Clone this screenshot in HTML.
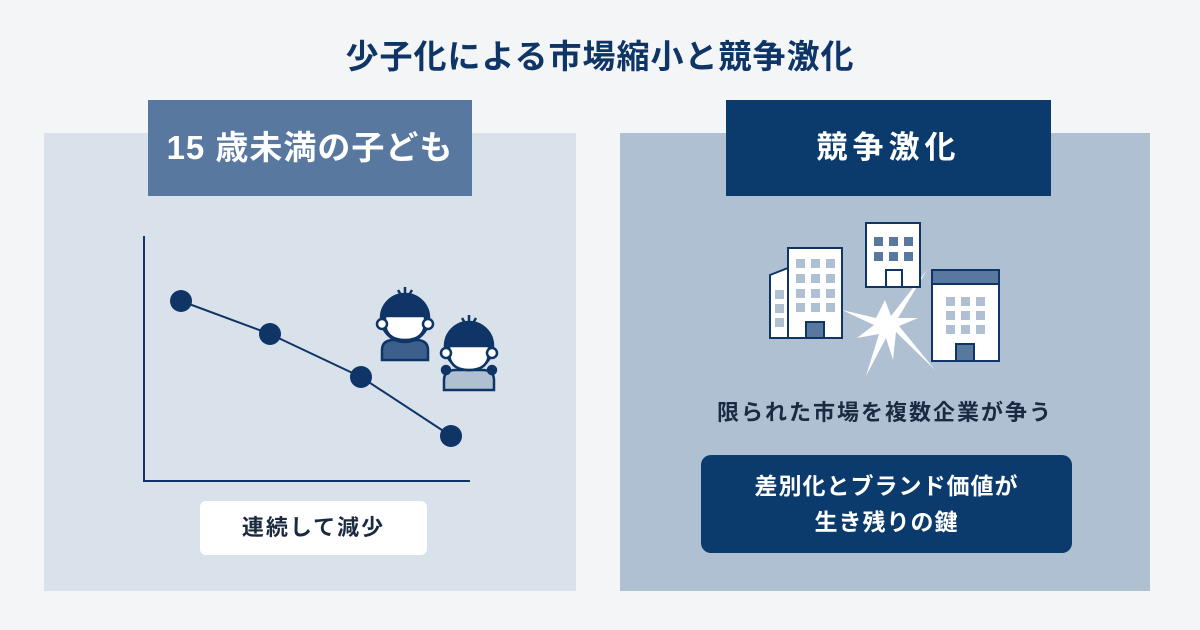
<!DOCTYPE html>
<html><head><meta charset="utf-8"><style>
body{margin:0;width:1200px;height:630px;background:#f4f5f7;position:relative;overflow:hidden;font-family:"Liberation Sans","Noto Sans CJK JP",sans-serif}
.a{position:absolute}
.t{font-weight:bold;text-align:center}
</style></head><body>
<div class="a t" style="left:0;width:1200px;top:30px;font-size:33px;color:#0e3566;letter-spacing:1px">少子化による市場縮小と競争激化</div>
<div class="a" style="left:44px;top:133px;width:532px;height:458px;background:#d9e1ea"></div>
<div class="a" style="left:620px;top:133px;width:530px;height:458px;background:#b0c0d3"></div>
<div class="a t" style="left:148px;top:100px;width:324px;height:96px;line-height:96px;background:#5878a0;color:#fff;font-size:33px;letter-spacing:1px">15 歳未満の子ども</div>
<div class="a t" style="left:726px;top:100px;width:325px;height:96px;line-height:96px;background:#0b3a6c;color:#fff;font-size:31px;letter-spacing:5px">競争激化</div>
<svg class="a" style="left:0;top:0" width="1200" height="630">
<g stroke="#0e3566" stroke-width="2" fill="none"><path d="M144 236V481H470"/><path d="M181 301L270 334L361 377L451 436"/></g>
<g fill="#0e3566"><circle cx="181" cy="301" r="11"/><circle cx="270" cy="334" r="11"/><circle cx="361" cy="377" r="11"/><circle cx="451" cy="436" r="11"/></g>
<g stroke="#0e3566" stroke-width="2.5">
<path d="M382 360v-10q0-10 12-10h22q12 0 12 10v10z" fill="#3d5f8c"/>
<circle cx="405" cy="318" r="24" fill="#0e3566"/>
<path d="M385 316h40v6q0 18-20 18t-20-18z" fill="#fff"/>
<circle cx="382" cy="324" r="5" fill="#fff"/><circle cx="428" cy="324" r="5" fill="#fff"/>
<path d="M405 294v-7M401 295l-3-5M409 295l3-5" fill="none"/>
<path d="M444 390v-10q0-10 12-10h26q12 0 12 10v10z" fill="#b0c0d3"/>
<circle cx="446" cy="370" r="4" fill="#0e3566"/><circle cx="492" cy="370" r="4" fill="#0e3566"/>
<circle cx="469" cy="346" r="24" fill="#0e3566"/>
<path d="M449 346h40v6q0 18-20 18t-20-18z" fill="#fff"/>
<circle cx="446" cy="353" r="5" fill="#fff"/><circle cx="492" cy="353" r="5" fill="#fff"/>
<path d="M469 322v-7M465 323l-3-5M473 323l3-5" fill="none"/>
</g>
<g fill="#fff">
<polygon points="885,300 891,316 927,270 898,318 918,318 899,326 935,370 896,332 893,360 886,338 866,376 879,334 857,338 874,325 842,310 876,318"/>
</g>
<g stroke="#0e3566" stroke-width="2" fill="#fff">
<path d="M770 338V275l18-7v70z"/><rect x="788" y="248" width="54" height="90"/>
<rect x="866" y="223" width="54" height="64"/>
<rect x="932" y="270" width="67" height="91"/>
<rect x="932" y="270" width="67" height="14" fill="#5878a0"/>
<rect x="806" y="322" width="18" height="16" fill="#5878a0"/>
<rect x="886" y="270" width="16" height="17" fill="#fff"/>
<rect x="956" y="344" width="18" height="17" fill="#5878a0"/>
</g>
<g fill="#b0c0d3">
<rect x="796" y="259" width="9" height="9"/><rect x="811" y="259" width="9" height="9"/><rect x="826" y="259" width="9" height="9"/>
<rect x="796" y="274" width="9" height="9"/><rect x="811" y="274" width="9" height="9"/><rect x="826" y="274" width="9" height="9"/>
<rect x="796" y="289" width="9" height="9"/><rect x="811" y="289" width="9" height="9"/><rect x="826" y="289" width="9" height="9"/>
<rect x="796" y="303" width="9" height="9"/><rect x="811" y="303" width="9" height="9"/><rect x="826" y="303" width="9" height="9"/>
<rect x="775" y="290" width="9" height="9"/><rect x="775" y="304" width="9" height="9"/><rect x="775" y="318" width="9" height="9"/>
<rect x="946" y="297" width="9" height="9"/><rect x="961" y="297" width="9" height="9"/><rect x="976" y="297" width="9" height="9"/>
<rect x="946" y="311" width="9" height="9"/><rect x="961" y="311" width="9" height="9"/><rect x="976" y="311" width="9" height="9"/>
<rect x="946" y="325" width="9" height="9"/><rect x="961" y="325" width="9" height="9"/><rect x="976" y="325" width="9" height="9"/>
</g>
<g fill="#5878a0">
<rect x="874" y="237" width="9" height="9"/><rect x="889" y="237" width="9" height="9"/><rect x="904" y="237" width="9" height="9"/>
<rect x="874" y="252" width="9" height="9"/><rect x="889" y="252" width="9" height="9"/><rect x="904" y="252" width="9" height="9"/>
</g>
</svg>
<div class="a t" style="left:200px;top:501px;width:227px;height:54px;line-height:54px;background:#fff;border-radius:6px;color:#1a2a40;font-size:22px;letter-spacing:2px">連続して減少</div>
<div class="a t" style="left:620px;top:395px;width:530px;font-size:22px;color:#1a2a40;letter-spacing:2px">限られた市場を複数企業が争う</div>
<div class="a t" style="left:701px;top:455px;width:371px;height:98px;background:#0b3a6c;border-radius:10px;color:#fff;font-size:23px;line-height:36px;padding-top:13px;box-sizing:border-box;letter-spacing:1px">差別化とブランド価値が<br>生き残りの鍵</div>
</body></html>
